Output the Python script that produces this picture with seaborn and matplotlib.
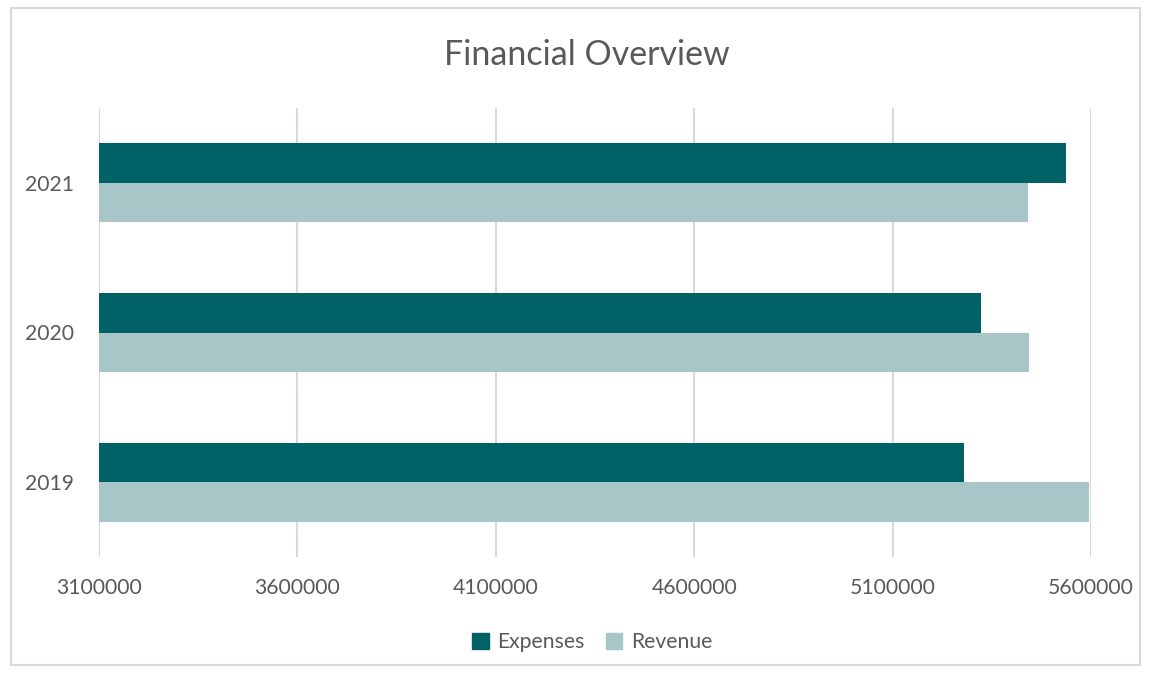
import matplotlib
matplotlib.use("Agg")
import matplotlib.pyplot as plt
import seaborn as sns
import pandas as pd
from matplotlib.patches import Rectangle

years = ["2021", "2020", "2019"]
expenses = [5537000, 5323500, 5280700]
revenue = [5440000, 5443750, 5594000]
series = ["Expenses", "Revenue"]
xticks = [3100000, 3600000, 4100000, 4600000, 5100000, 5600000]

df = pd.DataFrame({
    "Year": years * 2,
    "Value": expenses + revenue,
    "Series": [series[0]] * 3 + [series[1]] * 3,
})

sns.set_theme(style="white")
plt.rcParams["font.family"] = ["Lato", "DejaVu Sans"]

W, H = 1149, 673
fig = plt.figure(figsize=(W / 100, H / 100), dpi=100)
ax = fig.add_axes([99 / W, 1 - 557 / H, (1091 - 99) / W, (557 - 108) / H])

palette = {"Expenses": "#006266", "Revenue": "#A8C5C7"}
sns.barplot(data=df, y="Year", x="Value", hue="Series", order=years,
            hue_order=series, palette=palette, orient="h", width=0.527,
            saturation=1, ax=ax, legend=False, linewidth=0)

ax.set_xlim(3100000, 5600000)
ax.set_ylim(2.5, -0.5)
ax.set_xticks(xticks)
ax.set_xticklabels([str(v) for v in xticks])
ax.grid(axis="x", color="#D9D9D9", linewidth=1.5)
ax.set_axisbelow(True)
for s in ax.spines.values():
    s.set_visible(False)
ax.tick_params(axis="both", length=0, labelsize=15.2, colors="#595959")
ax.tick_params(axis="x", pad=15)
ax.tick_params(axis="y", pad=18)
ax.set_xlabel("")
ax.set_ylabel("")

fig.text(587 / W, 1 - 55 / H, "Financial Overview", ha="center", va="center",
         fontsize=24.5, color="#595959")

handles = [Rectangle((0, 0), 1, 1, color=palette[s]) for s in series]
fig.legend(handles, series, loc="center", bbox_to_anchor=(592 / W, 1 - 642 / H),
           ncol=2, frameon=False, fontsize=15.2, labelcolor="#595959",
           handlelength=0.8, handleheight=0.8, handletextpad=0.4, columnspacing=1.0)

fig.patches.append(Rectangle((11 / W, 1 - 665 / H), (1140 - 11) / W, (665 - 8) / H,
                             transform=fig.transFigure, fill=False,
                             edgecolor="#D9D9D9", linewidth=1.5))

fig.savefig("out.png", dpi=100, facecolor="white")
